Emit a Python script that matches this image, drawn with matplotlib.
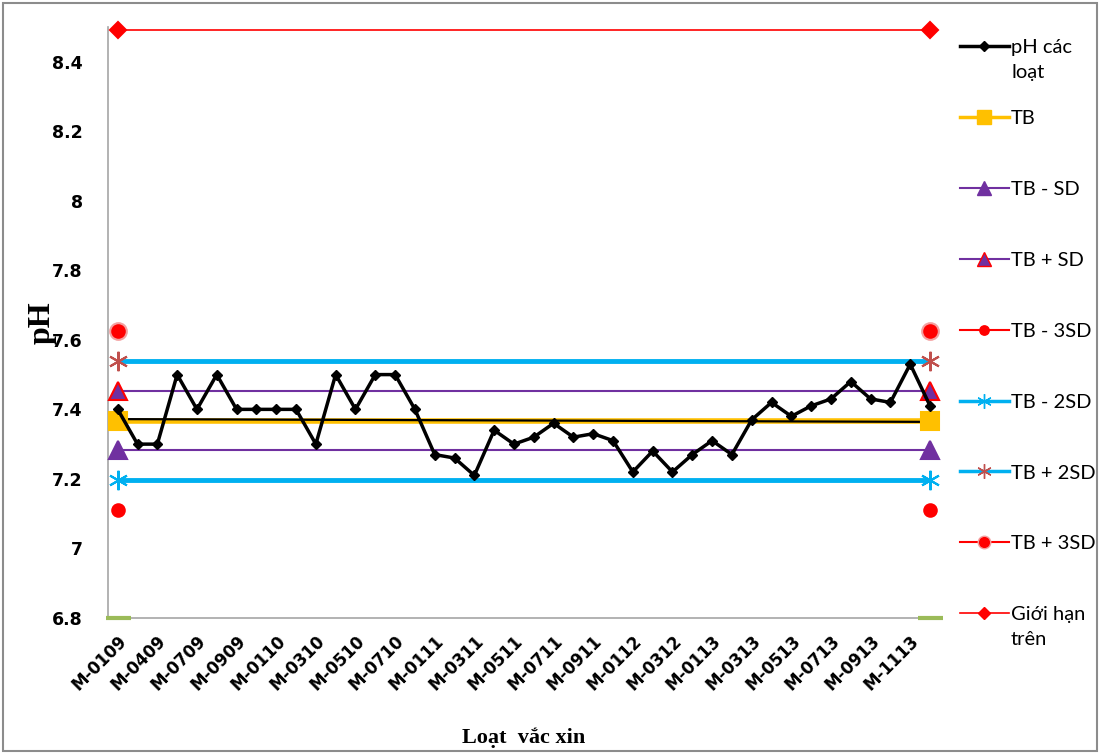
import matplotlib.pyplot as plt
from matplotlib.patches import Rectangle
from matplotlib.lines import Line2D

# Loạt vắc xin (nhãn hiển thị cách một)
batches = ["M-0109", "M-0309", "M-0409", "M-0609", "M-0709", "M-0809",
           "M-0909", "M-1109", "M-0110", "M-0210", "M-0310", "M-0410",
           "M-0510", "M-0610", "M-0710", "M-0910", "M-0111", "M-0211",
           "M-0311", "M-0411", "M-0511", "M-0611", "M-0711", "M-0811",
           "M-0911", "M-1111", "M-0112", "M-0212", "M-0312", "M-0812",
           "M-0113", "M-0213", "M-0313", "M-0413", "M-0513", "M-0613",
           "M-0713", "M-0813", "M-0913", "M-1013", "M-1113", "M-1213"]
ph = [7.40, 7.30, 7.30, 7.50, 7.40, 7.50, 7.40, 7.40, 7.40, 7.40,
      7.30, 7.50, 7.40, 7.50, 7.50, 7.40, 7.27, 7.26, 7.21, 7.34,
      7.30, 7.32, 7.36, 7.32, 7.33, 7.31, 7.22, 7.28, 7.22, 7.27,
      7.31, 7.27, 7.37, 7.42, 7.38, 7.41, 7.43, 7.48, 7.43, 7.42,
      7.53, 7.41]

# duong tham chieu
tb = 7.367
tb_minus_sd = 7.282
tb_plus_sd = 7.452
tb_minus_3sd = 7.11
tb_minus_2sd = 7.196
tb_plus_2sd = 7.538
tb_plus_3sd = 7.624
gioi_han_tren = 8.49
gioi_han_duoi = 6.8
trend = [7.372, 7.364]

fig = plt.figure(figsize=(11, 7.53), dpi=100)
ax = fig.add_axes([0.098, 0.1793, 0.7565, 0.785])
x = list(range(len(ph)))
ends = [0, len(ph) - 1]

def ref(val, color, lw, marker, ms, mfc, mec, label, line=True):
    if line:
        ax.plot(ends, [val, val], color=color, lw=lw, zorder=2)
    ax.plot(ends, [val, val], ls='none', marker=marker, ms=ms, mfc=mfc,
            mec=mec, mew=1.5, zorder=4, clip_on=False)
    return Line2D([], [], color=color, lw=lw if lw < 3 else 2.5, marker=marker,
                  ms=ms * 0.75, mfc=mfc, mec=mec, label=label)

handles = []
ax.plot(x, ph, color='black', lw=2.5, marker='D', ms=5, zorder=5)
handles.append(Line2D([], [], color='black', lw=2.5, marker='D', ms=5,
                      label="pH các"))
handles.append(ref(tb, '#FFC000', 4, 's', 13, '#FFC000', '#FFC000', "TB"))
ax.plot(ends, trend, color='black', lw=1.6, zorder=3)
handles.append(ref(tb_minus_sd, '#7030A0', 1.5, '^', 13, '#7030A0', '#7030A0', "TB - SD"))
handles.append(ref(tb_plus_sd, '#7030A0', 1.5, '^', 13, '#7030A0', '#FF0000', "TB + SD"))
handles.append(ref(tb_minus_3sd, '#FF0000', 1.5, 'o', 9, '#FF0000', '#FF0000', "TB - 3SD", line=False))
handles.append(ref(tb_minus_2sd, '#00B0F0', 3.5, (6, 2, 0), 14, '#00B0F0', '#00B0F0', "TB - 2SD"))
handles.append(ref(tb_plus_2sd, '#00B0F0', 3.5, (6, 2, 0), 14, '#C0504D', '#C0504D', "TB + 2SD"))
handles.append(ref(tb_plus_3sd, '#FF0000', 1.5, 'o', 12, '#FF0000', '#F4A0A0', "TB + 3SD", line=False))
handles.append(ref(gioi_han_tren, '#FF0000', 1.2, 'D', 8, '#FF0000', '#FF0000', "Giới hạn"))
ax.plot(ends, [gioi_han_duoi, gioi_han_duoi], ls='none', marker='_', ms=18,
        mew=3, color='#9BBB59', zorder=6, clip_on=False)

ax.set_xlim(-0.5, len(ph) - 0.5)
ax.set_ylim(6.8, 8.5)
ax.set_yticks([6.8, 7.0, 7.2, 7.4, 7.6, 7.8, 8.0, 8.2, 8.4])
ax.set_yticklabels(["6.8", "7", "7.2", "7.4", "7.6", "7.8", "8", "8.2", "8.4"],
                   fontsize=12.5, fontweight='bold', family='DejaVu Sans')
ax.set_xticks(x[::2])
ax.set_xticklabels(batches[::2], rotation=45, ha='right', rotation_mode='anchor',
                   fontsize=12, fontweight='bold', family='DejaVu Sans')
ax.tick_params(axis='y', length=0, pad=18)
ax.tick_params(axis='x', length=0, pad=10)
for s in ['top', 'right']:
    ax.spines[s].set_visible(False)
for s in ['left', 'bottom']:
    ax.spines[s].set_color('#A6A6A6')
    ax.spines[s].set_linewidth(1.2)

ax.set_ylabel("pH", fontsize=23, fontweight='bold', family='Liberation Serif')
ax.yaxis.set_label_coords(-0.062, 0.5)
ax.set_xlabel("Loạt  vắc xin", fontsize=16, fontweight='bold',
              family='Liberation Serif')
ax.xaxis.set_label_coords(0.5, -0.185)

leg = fig.legend(handles=handles, loc='upper left', bbox_to_anchor=(0.856, 0.972),
                 frameon=False, prop={'family': 'Lato', 'size': 14.5},
                 labelspacing=2.67, handlelength=2.45, handletextpad=0.1)

# dong thu hai cua nhan chu giai
fig.canvas.draw()
r = fig.canvas.get_renderer()
W, H = fig.bbox.width, fig.bbox.height
for t, extra in [(leg.get_texts()[0], "loạt"), (leg.get_texts()[-1], "trên")]:
    bb = t.get_window_extent(r)
    fig.text(bb.x0 / W, (bb.y0 - 25) / H, extra, family='Lato', fontsize=14.5,
             va='bottom', ha='left')

fig.patches.append(Rectangle((0.003, 0.003), 0.994, 0.993, transform=fig.transFigure,
                             fill=False, edgecolor='#8C8C8C', lw=1.5))

fig.savefig("out.png", dpi=100)
